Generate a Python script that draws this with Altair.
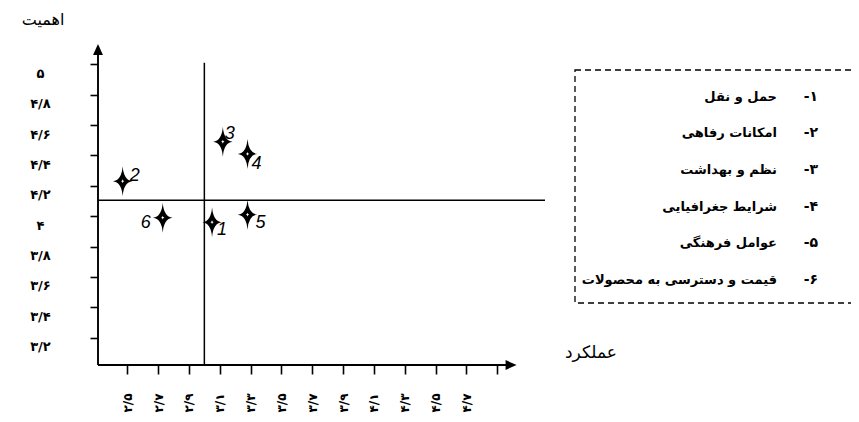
import altair as alt
import pandas as pd

# ---------------- data ----------------
ids = ["1", "2", "3", "4", "5", "6"]
ids_fa = ["۱", "۲", "۳", "۴", "۵", "۶"]
names = ["حمل و نقل", "امکانات رفاهی", "نظم و بهداشت", "شرایط جغرافیایی",
         "عوامل فرهنگی", "قیمت و دسترسی به محصولات"]
performance = [3.05, 2.47, 3.12, 3.28, 3.28, 2.73]
importance = [3.96, 4.23, 4.49, 4.41, 4.01, 3.99]
mean_performance = 3.0
mean_importance = 4.105

x_ticks = [2.5, 2.7, 2.9, 3.1, 3.3, 3.5, 3.7, 3.9, 4.1, 4.3, 4.5, 4.7, 4.9]
x_tick_labels = ["۲/۵", "۲/۷", "۲/۹", "۳/۱", "۳/۳", "۳/۵", "۳/۷", "۳/۹",
                 "۴/۱", "۴/۳", "۴/۵", "۴/۷", ""]
y_ticks = [3.2, 3.4, 3.6, 3.8, 4.0, 4.2, 4.4, 4.6, 4.8, 5.0]
y_tick_labels = ["۳/۲", "۳/۴", "۳/۶", "۳/۸", "۴", "۴/۲", "۴/۴", "۴/۶", "۴/۸", "۵"]
x_title = "عملکرد"
y_title = "اهمیت"

# ---------------- layout ----------------
XMIN, XMAX = 2.31, 5.21
YMIN, YMAX = 3.02, 5.14
W, H = 447, 322
FONT = "DejaVu Sans"
x_axis_end = 4.99      # centre of x arrow head
y_axis_end = 5.097     # centre of y arrow head
mean_line_top = 5.01

xs = alt.Scale(domain=[XMIN, XMAX], nice=False, zero=False)
ys = alt.Scale(domain=[YMIN, YMAX], nice=False, zero=False)


def label_expr(vals, labs):
    s = ""
    for v, l in zip(vals, labs):
        s += f"abs(datum.value - {v}) < 0.01 ? '{l}' : "
    return s + "''"


xaxis = alt.Axis(values=x_ticks, labelExpr=label_expr(x_ticks, x_tick_labels),
                 domain=False, grid=False, tickSize=9, tickColor="black",
                 tickWidth=1.6, labelAngle=270, labelAlign="right",
                 labelBaseline="middle", labelPadding=19, labelFont=FONT,
                 labelFontSize=12, labelFontWeight="bold", labelColor="black",
                 labelOverlap=False, labelFlush=False, title=None)
yaxis = alt.Axis(values=y_ticks, labelExpr=label_expr(y_ticks, y_tick_labels),
                 domain=False, grid=False, tickSize=8, tickColor="black",
                 tickWidth=1.6, labelAlign="center", labelBaseline="middle",
                 labelPadding=50, labelOffset=9, labelFont=FONT,
                 labelFontSize=13, labelFontWeight="bold", labelColor="black",
                 labelOverlap=False, labelFlush=False, title=None)


def X(f):
    return alt.X(f, type="quantitative", scale=xs, axis=xaxis)


def Y(f):
    return alt.Y(f, type="quantitative", scale=ys, axis=yaxis)


df = pd.DataFrame({"id": ids, "perf": performance, "imp": importance})

STAR = ("M0,-1 Q0.07,-0.07 0.65,0 Q0.07,0.07 0,1 "
        "Q-0.07,0.07 -0.65,0 Q-0.07,-0.07 0,-1 Z")
STAR_IN = ("M0,-0.13 Q0.015,-0.015 0.11,0 Q0.015,0.015 0,0.13 "
           "Q-0.015,0.015 -0.11,0 Q-0.015,-0.015 0,-0.13 Z")

stars = alt.Chart(df).mark_point(shape=STAR, filled=True, size=900, color="black",
                                 opacity=1, strokeWidth=0).encode(
    x=X("perf"), y=Y("imp"))
stars_in = alt.Chart(df).mark_point(shape=STAR_IN, filled=True, size=900,
                                    color="white", opacity=1, strokeWidth=0).encode(
    x=X("perf"), y=Y("imp"))

offsets = {"1": (10, 8), "2": (12, -5), "3": (7, -8), "4": (9, 10),
           "5": (13, 8), "6": (-17, 5)}
labels = []
for k, (dx, dy) in offsets.items():
    labels.append(
        alt.Chart(df).transform_filter(alt.datum.id == k).mark_text(
            dx=dx, dy=dy, font="Liberation Sans", fontStyle="italic",
            fontSize=18, color="black", align="center", baseline="middle").encode(
            x=X("perf"), y=Y("imp"), text="id:N"))

# axis lines
ax_df = pd.DataFrame({"x": [XMIN, XMIN], "x2": [x_axis_end, XMIN],
                      "y": [YMIN, YMIN], "y2": [YMIN, y_axis_end]})
axis_lines = alt.Chart(ax_df).mark_rule(color="black", strokeWidth=1.9).encode(
    x=X("x"), x2="x2", y=Y("y"), y2="y2")
arr_x = alt.Chart(pd.DataFrame({"x": [x_axis_end], "y": [YMIN]})).mark_point(
    shape="M1,0 L-1,-0.9 L-1,0.9 Z", filled=True, size=121, color="black",
    opacity=1, strokeWidth=0).encode(x=X("x"), y=Y("y"))
arr_y = alt.Chart(pd.DataFrame({"x": [XMIN], "y": [y_axis_end]})).mark_point(
    shape="M0,-1 L-0.9,1 L0.9,1 Z", filled=True, size=121, color="black",
    opacity=1, strokeWidth=0).encode(x=X("x"), y=Y("y"))

# mean lines
mean_df = pd.DataFrame({"x": [mean_performance, XMIN],
                        "x2": [mean_performance, XMAX],
                        "y": [YMIN, mean_importance],
                        "y2": [mean_line_top, mean_importance]})
mean_lines = alt.Chart(mean_df).mark_rule(color="black", strokeWidth=1.5).encode(
    x=X("x"), x2="x2", y=Y("y"), y2="y2")

# legend (custom, dashed box)
PXU = H / (YMAX - YMIN)
leg_df = pd.DataFrame({"i": list(range(len(names))), "name": names,
                       "num": ["\u200f" + n + "-\u200f" for n in ids_fa]})
leg_base = alt.Chart(leg_df).transform_calculate(
    ly=f"{YMAX} - (53.5 + datum.i * 36.7) / {PXU}")
leg_names = leg_base.mark_text(align="right", baseline="middle", font=FONT,
                               fontSize=13, fontWeight="bold", color="black").encode(
    x=alt.value(679), y=Y("ly"), text="name:N")
leg_nums = leg_base.mark_text(align="right", baseline="middle", font=FONT,
                              fontSize=14, fontWeight="bold", color="black").encode(
    x=alt.value(720), y=Y("ly"), text="num:N")
leg_box = alt.Chart(pd.DataFrame({"a": [0]})).mark_rect(
    filled=False, stroke="black", strokeDash=[6, 4], strokeWidth=1.3).encode(
    x=alt.value(477), x2=alt.value(755), y=alt.value(27), y2=alt.value(260))

# axis titles
t_df = pd.DataFrame({"a": [0]})
y_tit = alt.Chart(t_df).mark_text(text=y_title, font=FONT, fontSize=16,
                                  color="black", align="center",
                                  baseline="middle").encode(
    x=alt.value(-55), y=alt.value(-23))
x_tit = alt.Chart(t_df).mark_text(text=x_title, font=FONT, fontSize=17,
                                  color="black", align="center",
                                  baseline="middle").encode(
    x=alt.value(493), y=alt.value(310))

chart = alt.layer(
    mean_lines, axis_lines, arr_x, arr_y, stars, stars_in, *labels,
    leg_box, leg_names, leg_nums, y_tit, x_tit
).properties(
    width=W, height=H,
    padding={"left": 90, "top": 35, "right": 306, "bottom": 49},
    autosize=alt.AutoSizeParams(type="none"),
    background="white"
).configure_view(stroke=None)

chart.save("out.html", embed_options={"renderer": "svg", "actions": False})
